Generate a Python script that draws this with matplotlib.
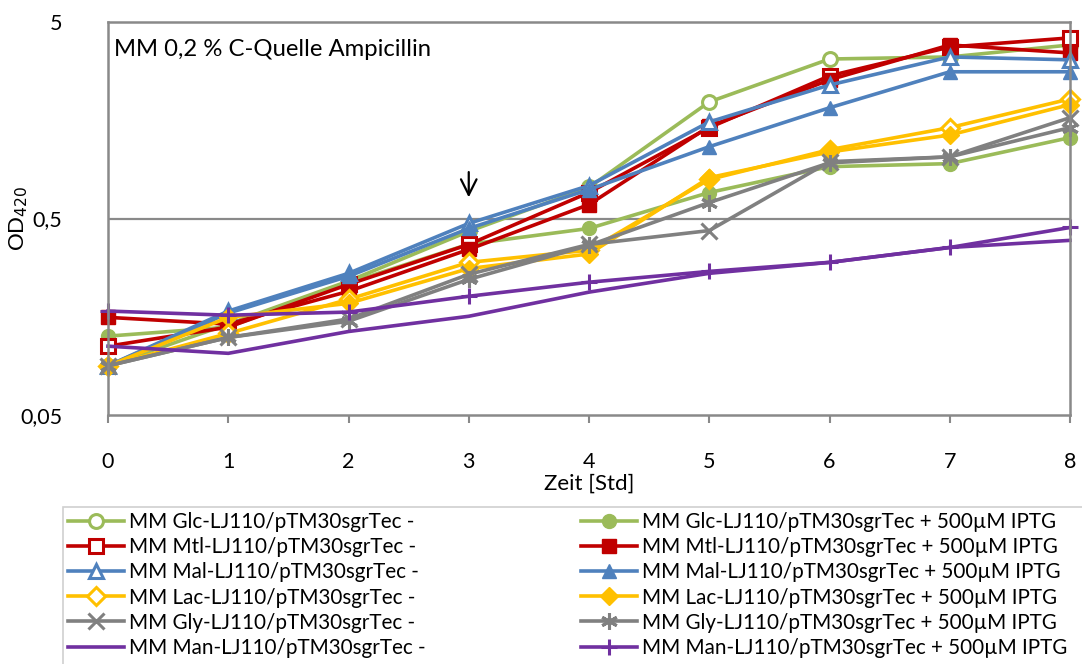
import matplotlib.pyplot as plt
from matplotlib.patches import Rectangle
import numpy as np

plt.rcParams['font.family'] = ['Lato', 'DejaVu Sans']

zeit = [0, 1, 2, 3, 4, 5, 6, 7, 8]

# OD420 je Kohlenstoffquelle, ohne (-) und mit IPTG (+)
glc_minus = [0.089, 0.145, 0.24, 0.43, 0.72, 1.96, 3.24, 3.32, 3.82]
glc_plus = [0.126, 0.14, 0.235, 0.37, 0.445, 0.678, 0.918, 0.951, 1.29]
mtl_minus = [0.112, 0.14, 0.231, 0.369, 0.678, 1.45, 2.66, 3.73, 4.15]
mtl_plus = [0.157, 0.145, 0.213, 0.348, 0.589, 1.47, 2.54, 3.82, 3.48]
mal_minus = [0.089, 0.169, 0.263, 0.472, 0.735, 1.55, 2.39, 3.32, 3.21]
mal_plus = [0.089, 0.165, 0.254, 0.445, 0.702, 1.16, 1.83, 2.79, 2.79]
lac_minus = [0.089, 0.13, 0.194, 0.299, 0.345, 0.79, 1.12, 1.45, 2.03]
lac_plus = [0.089, 0.157, 0.185, 0.278, 0.33, 0.807, 1.09, 1.33, 1.90]
gly_minus = [0.089, 0.124, 0.154, 0.26, 0.369, 0.434, 0.973, 1.03, 1.63]
gly_plus = [0.089, 0.124, 0.150, 0.245, 0.365, 0.603, 0.96, 1.03, 1.45]
man_minus = [0.112, 0.103, 0.133, 0.159, 0.211, 0.263, 0.299, 0.356, 0.387]
man_plus = [0.169, 0.161, 0.167, 0.201, 0.237, 0.269, 0.299, 0.356, 0.45]

gruen = '#9BBB59'
rot = '#C00000'
blau = '#4F81BD'
gelb = '#FFC000'
grau = '#808080'
lila = '#7030A0'

# (label, werte, farbe, marker, offen)
reihen = [
    ('MM Glc-LJ110/pTM30sgrTec -', glc_minus, gruen, 'o', True),
    ('MM Glc-LJ110/pTM30sgrTec + 500µM IPTG', glc_plus, gruen, 'o', False),
    ('MM Mtl-LJ110/pTM30sgrTec -', mtl_minus, rot, 's', True),
    ('MM Mtl-LJ110/pTM30sgrTec + 500µM IPTG', mtl_plus, rot, 's', False),
    ('MM Mal-LJ110/pTM30sgrTec -', mal_minus, blau, '^', True),
    ('MM Mal-LJ110/pTM30sgrTec + 500µM IPTG', mal_plus, blau, '^', False),
    ('MM Lac-LJ110/pTM30sgrTec -', lac_minus, gelb, 'D', True),
    ('MM Lac-LJ110/pTM30sgrTec + 500µM IPTG', lac_plus, gelb, 'D', False),
    ('MM Gly-LJ110/pTM30sgrTec -', gly_minus, grau, 'x', False),
    ('MM Gly-LJ110/pTM30sgrTec + 500µM IPTG', gly_plus, grau, (6, 2, 0), False),
    ('MM Man-LJ110/pTM30sgrTec -', man_minus, lila, None, False),
    ('MM Man-LJ110/pTM30sgrTec + 500µM IPTG', man_plus, lila, '+', False),
]

fig = plt.figure(figsize=(10.82, 6.64), dpi=100)
ax = fig.add_axes([108 / 1082, 1 - 415 / 664, (1070 - 108) / 1082, (415 - 22) / 664])

handles = []
for label, werte, farbe, marker, offen in reihen:
    if marker in ('o', 's', '^'):
        ms = 10
    elif marker == 'D':
        ms = 9
    else:
        ms = 12
    strich = offen or marker in ('x', '+') or isinstance(marker, tuple)
    h, = ax.plot(zeit, werte, label=label, clip_on=False, color=farbe, lw=2.6,
                 marker=marker, markersize=ms,
                 markeredgewidth=2.2 if strich else 1,
                 markeredgecolor=farbe,
                 markerfacecolor='white' if offen else farbe)
    handles.append(h)

ax.set_yscale('log')
ax.set_ylim(0.05, 5)
ax.set_xlim(0, 8)
ax.set_yticks([0.05, 0.5, 5])
ax.set_yticklabels(['0,05', '0,5', '5'])
ax.yaxis.set_minor_locator(plt.NullLocator())
ax.set_xticks(zeit)
ax.tick_params(axis='both', labelsize=15.5, colors='black')
ax.tick_params(axis='x', length=6, width=1.5, color='#898989', direction='out', pad=21)
ax.tick_params(axis='y', length=0, pad=33)
for s in ax.spines.values():
    s.set_color('#898989')
    s.set_linewidth(1.8)
ax.axhline(0.5, color='#898989', lw=1.6, zorder=0)

ax.set_xlabel('Zeit [Std]', fontsize=16, labelpad=1)
ax.set_ylabel('OD$_{420}$', fontsize=16)
ax.yaxis.set_label_coords(-0.081, 0.5)

ax.text(0.006, 0.929, 'MM 0,2 % C-Quelle Ampicillin', transform=ax.transAxes,
        fontsize=17.2, va='center', ha='left')

# Pfeil bei 3 h
ax.annotate('', xy=(3, 0.62), xytext=(3, 0.89),
            arrowprops=dict(arrowstyle='->', color='black', lw=1.6, mutation_scale=28))

# Legende: zwei Spalten, gemeinsamer Rahmen
fig.patches.append(Rectangle((63 / 1082, -0.05), 1.1, 1 - 507 / 664 + 0.05,
                             transform=fig.transFigure, fill=False,
                             edgecolor='#d0d0d0', lw=1.2))
leg_kw = dict(frameon=False, fontsize=14.9, handlelength=2.7, handletextpad=0.25,
              labelspacing=0.25, borderaxespad=0, borderpad=0)
leg1 = fig.legend(handles=handles[0::2], loc='upper left',
                  bbox_to_anchor=(68 / 1082, 1 - 512 / 664), **leg_kw)
leg2 = fig.legend(handles=handles[1::2], loc='upper left',
                  bbox_to_anchor=(581 / 1082, 1 - 512 / 664), **leg_kw)

fig.savefig('out.png', dpi=100)
